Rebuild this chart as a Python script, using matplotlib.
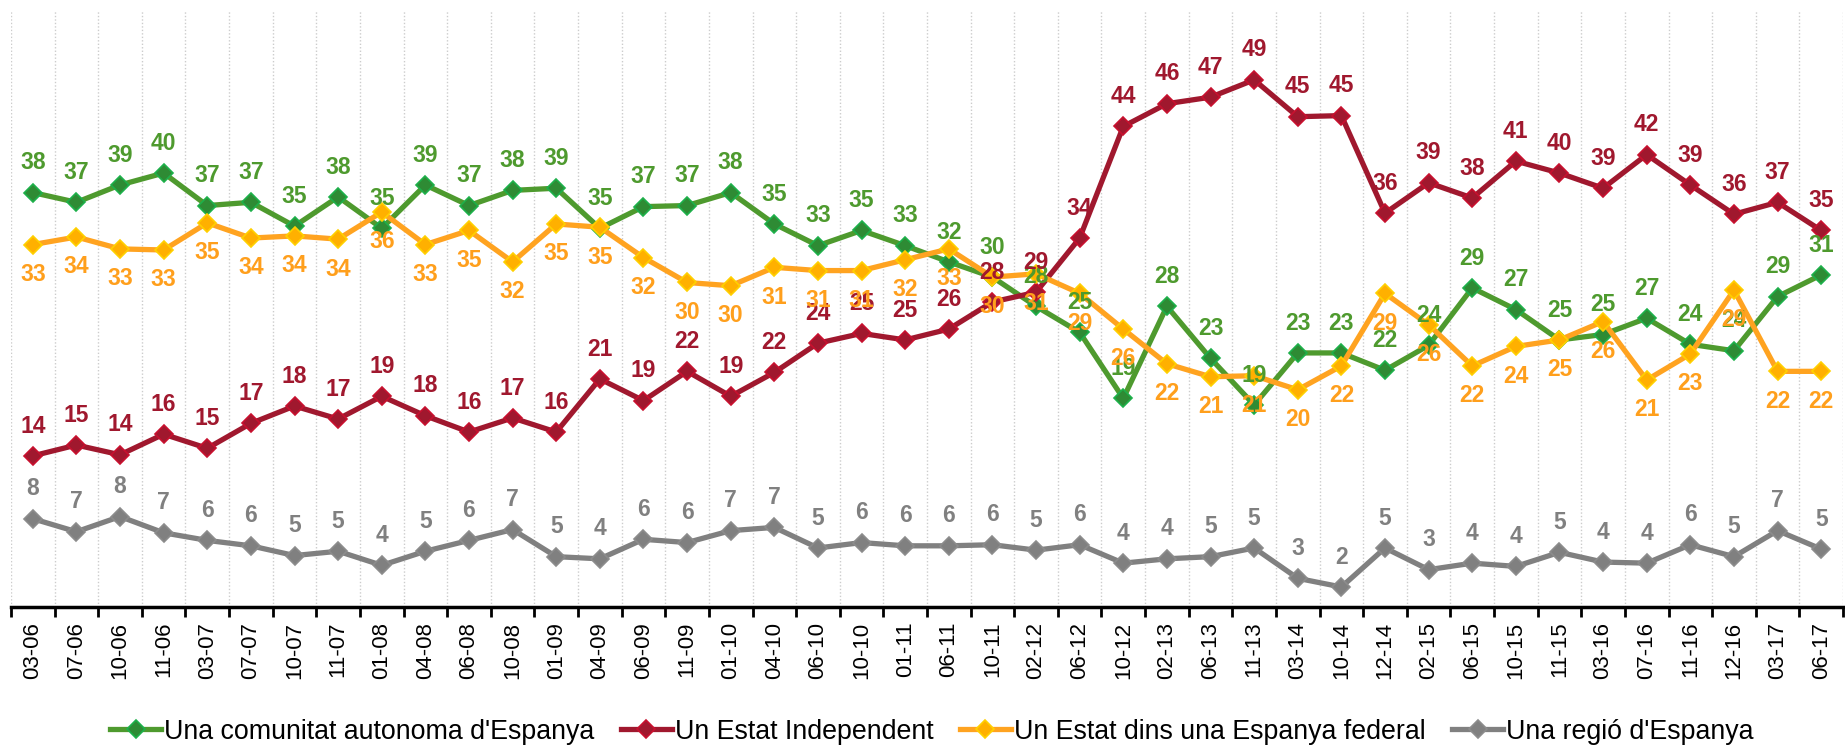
import numpy as np
import matplotlib
matplotlib.use("Agg")
import matplotlib.pyplot as plt
from matplotlib import font_manager

# --- data ---
periods = ["03-06", "07-06", "10-06", "11-06", "03-07", "07-07", "10-07", "11-07",
           "01-08", "04-08", "06-08", "10-08", "01-09", "04-09", "06-09", "11-09",
           "01-10", "04-10", "06-10", "10-10", "01-11", "06-11", "10-11", "02-12",
           "06-12", "10-12", "02-13", "06-13", "11-13", "03-14", "10-14", "12-14",
           "02-15", "06-15", "10-15", "11-15", "03-16", "07-16", "11-16", "12-16",
           "03-17", "06-17"]

comunitat = [38.2, 37.3, 38.9, 40.0, 37.0, 37.3, 35.1, 37.8, 34.9, 38.9, 37.0, 38.4,
             38.6, 34.9, 36.9, 37.0, 38.2, 35.3, 33.3, 34.7, 33.3, 31.8, 30.4, 27.7,
             25.3, 19.2, 27.7, 22.9, 18.6, 23.4, 23.4, 21.8, 24.1, 29.4, 27.4, 24.6,
             25.1, 26.6, 24.2, 23.6, 28.6, 30.6]
independent = [13.9, 14.9, 14.0, 15.9, 14.6, 16.9, 18.5, 17.3, 19.4, 17.6, 16.1, 17.4,
               16.1, 21.0, 19.0, 21.7, 19.4, 21.6, 24.3, 25.2, 24.6, 25.6, 28.1, 29.0,
               34.0, 44.3, 46.4, 47.0, 48.6, 45.2, 45.3, 36.3, 39.1, 37.7, 41.1, 40.0,
               38.6, 41.7, 38.9, 36.2, 37.3, 34.7]
federal = [33.4, 34.1, 33.0, 32.9, 35.4, 34.0, 34.2, 33.9, 36.4, 33.4, 34.7, 31.8,
           35.3, 35.0, 32.2, 29.9, 29.6, 31.3, 31.0, 31.0, 32.0, 33.0, 30.4, 30.7,
           28.9, 25.6, 22.4, 21.2, 21.3, 20.0, 22.2, 28.9, 26.0, 22.2, 24.0, 24.6,
           26.3, 20.9, 23.3, 29.2, 21.7, 21.7]
regio = [8.1, 6.9, 8.3, 6.8, 6.1, 5.6, 4.7, 5.1, 3.8, 5.1, 6.1, 7.1,
         4.6, 4.4, 6.2, 5.9, 7.0, 7.3, 5.4, 5.9, 5.6, 5.6, 5.7, 5.2,
         5.7, 4.0, 4.4, 4.6, 5.4, 2.6, 1.8, 5.4, 3.4, 4.0, 3.7, 5.0,
         4.1, 4.0, 5.7, 4.6, 7.0, 5.3]

# name, values, line colour, marker face, marker edge, label colour, label side
series = [
    ("Una comunitat autonoma d'Espanya", comunitat, "#4E9A2E", "#2E8B34", "#1DB04A", "#4E9A2E", 1),
    ("Un Estat Independent", independent, "#A0182E", "#A0182E", "#C8102E", "#A0182E", 1),
    ("Un Estat dins una Espanya federal", federal, "#FFA320", "#FFB000", "#FFD000", "#FF9F1C", -1),
    ("Una regió d'Espanya", regio, "#808080", "#808080", "#8C8C8C", "#808080", 1),
]

names = {f.name for f in font_manager.fontManager.ttflist}
base_font = "Liberation Sans" if "Liberation Sans" in names else "DejaVu Sans"
plt.rcParams["font.family"] = [base_font, "DejaVu Sans"]

fig = plt.figure(figsize=(18.45, 7.45), dpi=100)
ax = fig.add_axes([11 / 1845, 138.5 / 745, 1832 / 1845, 596 / 745])

x = np.arange(len(periods))
handles = []
for name, vals, lcol, mface, medge, tcol, side in series:
    h, = ax.plot(x, vals, color=lcol, lw=3.8, marker="D", ms=9,
                 markerfacecolor=mface, markeredgecolor=medge, markeredgewidth=1.2,
                 label=name, zorder=3)
    handles.append(h)
    for xi, v in zip(x, vals):
        ax.annotate(f"{v:.0f}", (xi, v), xytext=(0, 21.5 * side), textcoords="offset points",
                    ha="center", va="center", fontsize=16.5, fontweight="bold",
                    color=tcol, zorder=4)

ax.set_xlim(-0.5, len(periods) - 0.5)
ax.set_ylim(0, 55)

# boundaries get the ticks and dotted grid, labels sit on the category centres
ax.set_xticks(np.arange(len(periods) + 1) - 0.5)
ax.set_xticklabels([])
ax.set_xticks(x, minor=True)
ax.set_xticklabels(periods, minor=True, rotation=90, fontsize=16)
ax.tick_params(axis="x", which="major", length=7, width=2, direction="out")
ax.tick_params(axis="x", which="minor", length=0, pad=11)
ax.xaxis.grid(True, which="major", linestyle=(0, (1, 1.5)), color="#cccccc", lw=1)
ax.set_axisbelow(True)

ax.set_yticks([])
for s in ["left", "right", "top"]:
    ax.spines[s].set_visible(False)
ax.spines["bottom"].set_linewidth(2.5)

fig.legend(handles=handles, loc="center", bbox_to_anchor=(0.505, 0.018),
           ncol=4, frameon=False, fontsize=19.3, handlelength=1.9, handletextpad=0.1,
           columnspacing=1.0)

fig.savefig("out.png", dpi=100)
